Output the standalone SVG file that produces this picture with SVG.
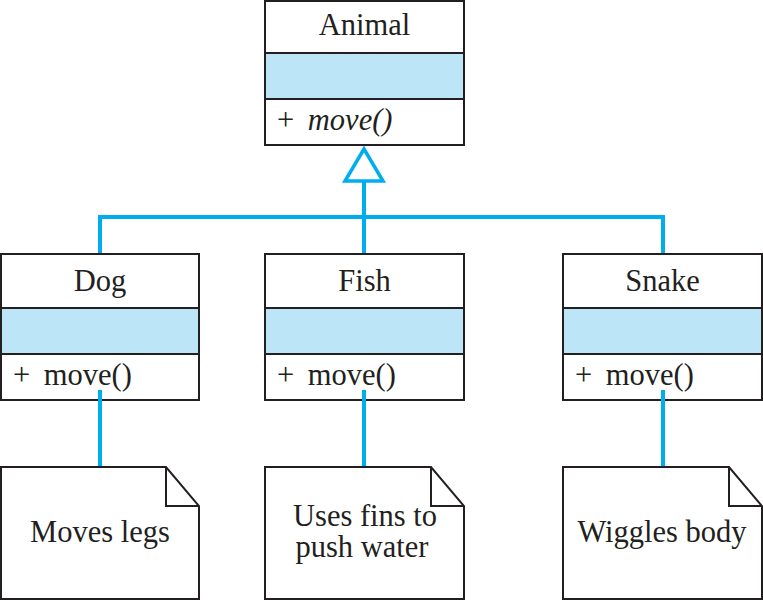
<svg xmlns="http://www.w3.org/2000/svg" width="763" height="600" viewBox="0 0 763 600">
<style>
.box{fill:#fff;stroke:#231f20;stroke-width:2}
.attr{fill:#bde5f8;stroke:#231f20;stroke-width:2}
.note{fill:#fff;stroke:#231f20;stroke-width:2;stroke-linejoin:miter}
.conn{fill:none;stroke:#00aeef;stroke-width:4}
.t{font-family:"Liberation Serif","Times New Roman",serif;font-size:30.5px;fill:#231f20}
.c{text-anchor:middle}
</style>
<rect width="763" height="600" fill="#fff"/>
<g id="Animal">
<rect class="box" x="265" y="1" width="199" height="144"/>
<rect class="attr" x="265" y="53" width="199" height="46"/>
<text class="t c" x="364.5" y="35">Animal</text>
<text class="t" x="277" y="130">+ <tspan dx="6" font-style="italic">move()</tspan></text>
</g>
<g id="Dog">
<rect class="box" x="1" y="254" width="198" height="146"/>
<rect class="attr" x="1" y="308" width="198" height="46"/>
<text class="t c" x="100" y="291">Dog</text>
<text class="t" x="13" y="385">+ <tspan dx="6">move()</tspan></text>
</g>
<g id="Fish">
<rect class="box" x="265" y="254" width="199" height="146"/>
<rect class="attr" x="265" y="308" width="199" height="46"/>
<text class="t c" x="364.5" y="291">Fish</text>
<text class="t" x="277" y="385">+ <tspan dx="6">move()</tspan></text>
</g>
<g id="Snake">
<rect class="box" x="563" y="254" width="199" height="146"/>
<rect class="attr" x="563" y="308" width="199" height="46"/>
<text class="t c" x="662.5" y="291">Snake</text>
<text class="t" x="575" y="385">+ <tspan dx="6">move()</tspan></text>
</g>
<g id="NoteDog">
<path class="note" d="M1,467 H166 L199,506 V599 H1 Z M166,467 V506 H199"/>
<text class="t c" x="100" y="542">Moves legs</text>
</g>
<g id="NoteFish">
<path class="note" d="M265,467 H431 L464,506 V599 H265 Z M431,467 V506 H464"/>
<text class="t c" x="365" y="526">Uses fins to</text>
<text class="t c" x="362" y="557">push water</text>
</g>
<g id="NoteSnake">
<path class="note" d="M563,467 H729 L762,506 V599 H563 Z M729,467 V506 H762"/>
<text class="t c" x="662" y="542">Wiggles body</text>
</g>
<g id="connectors">
<path class="conn" d="M100,253 V217 H663 V253"/>
<path class="conn" d="M364,253 V182"/>
<polygon points="364,149 345,181 383,181" fill="#fff" stroke="#00aeef" stroke-width="3.5"/>
<path class="conn" d="M100,390 V466"/>
<path class="conn" d="M364,390 V466"/>
<path class="conn" d="M663,390 V466"/>
</g>
</svg>
